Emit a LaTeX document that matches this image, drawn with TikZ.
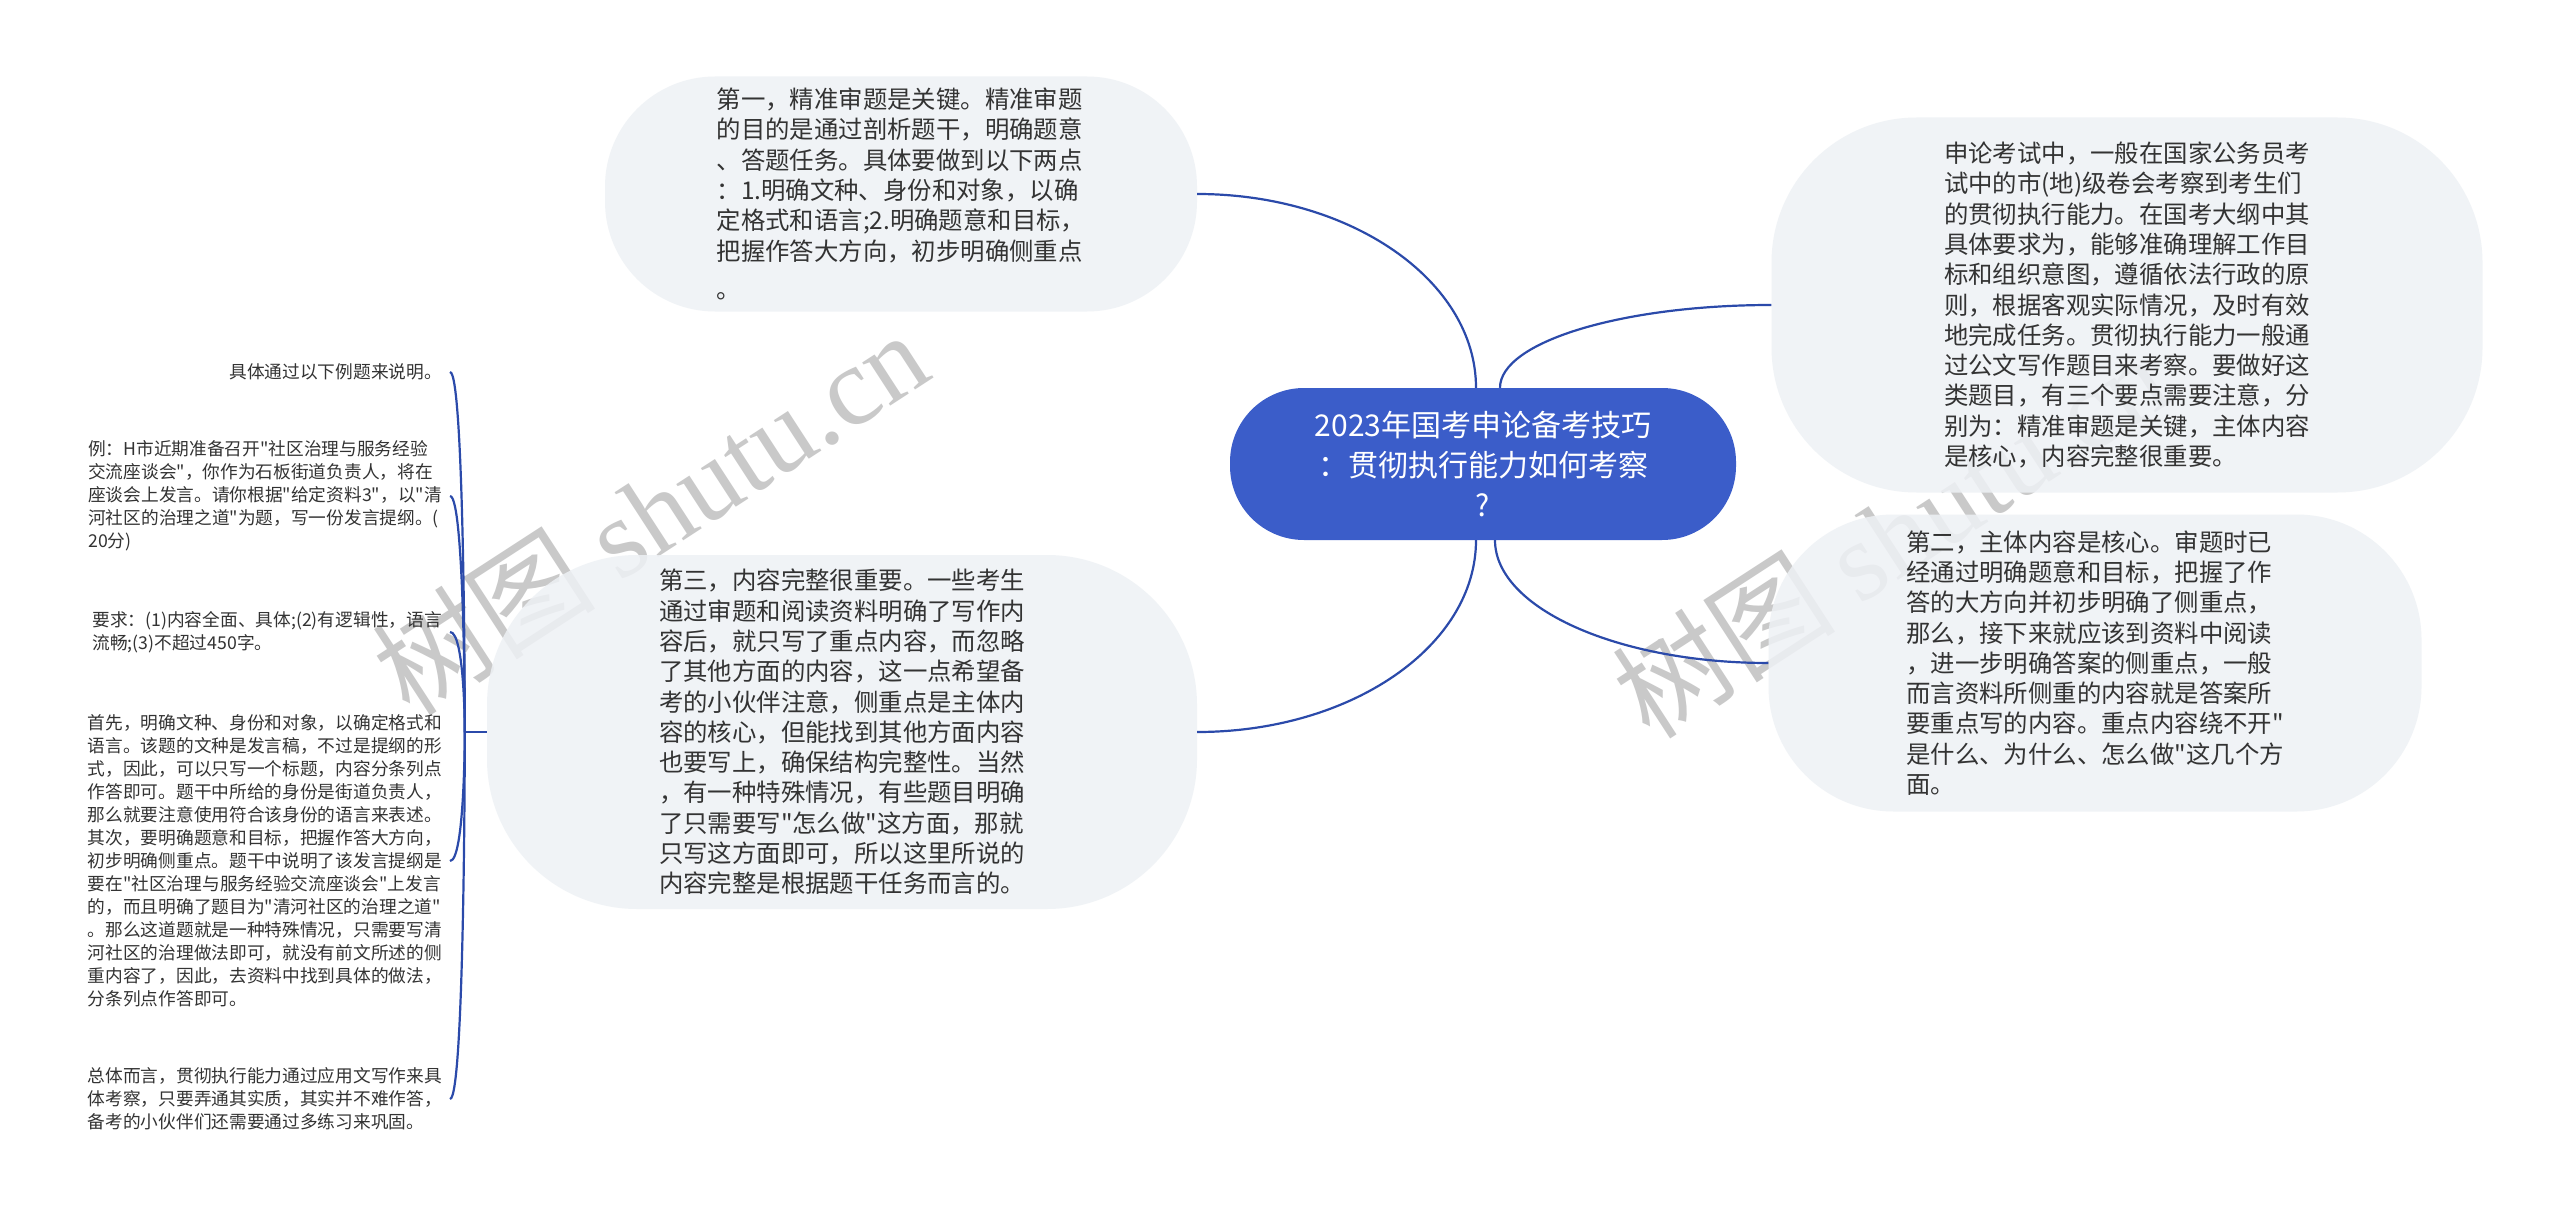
\documentclass[tikz,border=0pt]{standalone}
\usepackage{fontspec}
\setmainfont{Noto Sans CJK SC}[Ligatures=TeXOff]
\newfontfamily\wmserif{Liberation Serif}
\usetikzlibrary{calc}
\definecolor{rootblue}{RGB}{59,93,201}
\definecolor{linkblue}{RGB}{43,74,170}
\definecolor{bubblegray}{RGB}{238,241,245}
\definecolor{txtgray}{RGB}{51,51,51}
\definecolor{wmgray}{RGB}{120,120,120}
\begin{document}
\begin{tikzpicture}[x=1pt,y=-1pt,
  bubble/.style={fill=bubblegray, fill opacity=0.85, text opacity=1, draw=none, text=txtgray, align=left, inner sep=0pt, font=\fontsize{24.4pt}{30.3pt}\selectfont},
  leaf/.style={text=txtgray, align=left, inner xsep=8pt, inner ysep=0pt, anchor=east, font=\fontsize{17.7pt}{23pt}\selectfont},
  link/.style={draw=linkblue, line width=2.2pt},
  qell/.style={to path={let \p1=(\tikztostart), \p2=(\tikztotarget) in .. controls (\x1,{\y1+0.552*(\y2-\y1)}) and ({\x2+0.552*(\x1-\x2)},\y2) .. (\tikztotarget)}},
  wmark/.style={text=wmgray, text opacity=0.4, rotate=33, inner sep=0pt}
]
\fill[white] (0,0) rectangle (2560,1217);
\useasboundingbox (0,0) rectangle (2560,1217);

% watermarks (under the bubbles)
\node[wmark] (wm1) at (650,512) {\fontsize{112pt}{112pt}\selectfont 树图 {\wmserif shutu.cn}};
\node[wmark] (wm2) at (1890,535) {\fontsize{112pt}{112pt}\selectfont 树图 {\wmserif shutu.cn}};

% root
\node[fill=rootblue, text=white, rounded corners=74pt, minimum width=506pt, minimum height=152pt, align=center, inner sep=0pt, font=\fontsize{30pt}{40pt}\selectfont] (root) at (1483,464) {2023年国考申论备考技巧\\：贯彻执行能力如何考察\\?};

% bubbles
\node[bubble, rounded corners=110pt, minimum width=592pt, minimum height=235pt] (n1) at (901,194) {第一，精准审题是关键。精准审题\\的目的是通过剖析题干，明确题意\\、答题任务。具体要做到以下两点\\：1.明确文种、身份和对象，以确\\定格式和语言;2.明确题意和目标，\\把握作答大方向，初步明确侧重点\\[8pt]。};

\node[bubble, rounded corners=145pt, minimum width=711pt, minimum height=375pt] (n2) at (2127,305) {申论考试中，一般在国家公务员考\\试中的市(地)级卷会考察到考生们\\的贯彻执行能力。在国考大纲中其\\具体要求为，能够准确理解工作目\\标和组织意图，遵循依法行政的原\\则，根据客观实际情况，及时有效\\地完成任务。贯彻执行能力一般通\\过公文写作题目来考察。要做好这\\类题目，有三个要点需要注意，分\\别为：精准审题是关键，主体内容\\是核心，内容完整很重要。};

\node[bubble, rounded corners=125pt, minimum width=653pt, minimum height=297pt] (n3) at (2095,663) {第二，主体内容是核心。审题时已\\经通过明确题意和目标，把握了作\\答的大方向并初步明确了侧重点，\\那么，接下来就应该到资料中阅读\\，进一步明确答案的侧重点，一般\\而言资料所侧重的内容就是答案所\\要重点写的内容。重点内容绕不开"\\是什么、为什么、怎么做"这几个方\\面。};

\node[bubble, rounded corners=150pt, minimum width=710pt, minimum height=354pt] (n4) at (842,732) {第三，内容完整很重要。一些考生\\通过审题和阅读资料明确了写作内\\容后，就只写了重点内容，而忽略\\了其他方面的内容，这一点希望备\\考的小伙伴注意，侧重点是主体内\\容的核心，但能找到其他方面内容\\也要写上，确保结构完整性。当然\\，有一种特殊情况，有些题目明确\\了只需要写"怎么做"这方面，那就\\只写这方面即可，所以这里所说的\\内容完整是根据题干任务而言的。};

% leaves
\node[leaf] (L1) at (450,372) {具体通过以下例题来说明。};
\node[leaf] (L2) at (450,496) {例：H市近期准备召开"社区治理与服务经验\\交流座谈会"，你作为石板街道负责人，将在\\座谈会上发言。请你根据"给定资料3"，以"清\\河社区的治理之道"为题，写一份发言提纲。(\\20分)};
\node[leaf] (L3) at (450,632) {要求：(1)内容全面、具体;(2)有逻辑性，语言\\流畅;(3)不超过450字。};
\node[leaf] (L4) at (450,861) {首先，明确文种、身份和对象，以确定格式和\\语言。该题的文种是发言稿，不过是提纲的形\\式，因此，可以只写一个标题，内容分条列点\\作答即可。题干中所给的身份是街道负责人，\\那么就要注意使用符合该身份的语言来表述。\\其次，要明确题意和目标，把握作答大方向，\\初步明确侧重点。题干中说明了该发言提纲是\\要在"社区治理与服务经验交流座谈会"上发言\\的，而且明确了题目为"清河社区的治理之道"\\。那么这道题就是一种特殊情况，只需要写清\\河社区的治理做法即可，就没有前文所述的侧\\重内容了，因此，去资料中找到具体的做法，\\分条列点作答即可。};
\node[leaf] (L5) at (450,1099) {总体而言，贯彻执行能力通过应用文写作来具\\体考察，只要弄通其实质，其实并不难作答，\\备考的小伙伴们还需要通过多练习来巩固。};

% connectors from root
\coordinate (rtl) at ($(root.north)+(-7,0)$);
\coordinate (rtr) at ($(root.north)+(17,0)$);
\coordinate (rbl) at ($(root.south)+(-7,0)$);
\coordinate (rbr) at ($(root.south)+(12,0)$);
\draw[link] (rtl) to[qell] (n1.east);
\draw[link] (rtr) to[qell] (n2.west);
\draw[link] (rbr) to[qell] (n3.west);
\draw[link] (rbl) to[qell] (n4.east);

% connectors to leaves
\coordinate (j) at ($(n4.west)+(-22,0)$);
\draw[link] (n4.west) -- (j);
\foreach \lf in {L1,L2,L3,L4,L5} {
  \draw[link] (j) .. controls (j) and (j |- \lf.east) .. (\lf.east);
}
\end{tikzpicture}
\end{document}
